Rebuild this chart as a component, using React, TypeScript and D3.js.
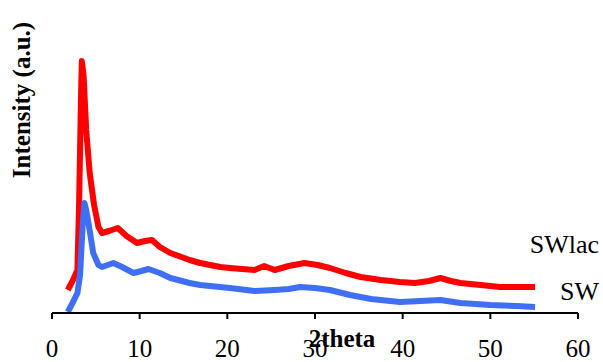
import React from 'react';
import * as d3 from 'd3';

// 2theta positions and intensities (arbitrary units)
const swlacTheta = [1.8, 2.4, 2.9, 3.1, 3.3, 3.4, 3.6, 3.9, 4.3, 4.8, 5.3, 5.7, 6.5, 7.5, 8.5, 9.7, 10.6, 11.4, 12.3, 13.5, 15.7, 16.9, 19.2, 20.3, 23.1, 24.2, 25.4, 27, 28.8, 30.3, 31.7, 33.5, 35.2, 37.5, 39.7, 41.4, 43, 44.3, 45.5, 46.6, 48.9, 51.1, 53, 55.1];
const swlacInt = [23, 33, 43, 113, 213, 252, 238, 183, 140, 108, 86, 80, 82, 85, 77, 70, 72, 73, 66, 60, 53, 50, 46, 45, 43, 47, 43, 47, 50, 48, 45, 40, 36, 33, 31, 30, 32, 35, 32, 30, 28, 26, 26, 26];

const swTheta = [1.8, 2.4, 2.9, 3.2, 3.5, 3.7, 3.9, 4.2, 4.7, 5.3, 5.7, 7, 8, 9.3, 10.2, 11, 12.3, 13.5, 15.7, 16.9, 20.3, 23.1, 25.4, 27, 28.3, 30, 31.7, 34, 36.4, 39.7, 42, 44.3, 46.6, 50, 53, 55.1];
const swInt = [1, 11, 20, 38, 88, 110, 103, 88, 60, 48, 46, 50, 46, 40, 42, 44, 40, 35, 30, 28, 25, 22, 23, 24, 26, 25, 23, 18, 14, 11, 12, 13, 10, 8, 7, 6];

const xTicks = [0, 10, 20, 30, 40, 50, 60];

const series = [
  { name: 'SWlac', theta: swlacTheta, values: swlacInt, color: '#ff0000' },
  { name: 'SW', theta: swTheta, values: swInt, color: '#3f6ff4' },
];

export default function App() {
  const width = 603, height = 362;
  const x = d3.scaleLinear().domain([0, 60]).range([52, 578]);
  const y = d3.scaleLinear().domain([0, 260]).range([313, 53]);
  const font = 'Liberation Serif, Times New Roman, Times, serif';

  const line = d3.line<[number, number]>()
    .x(d => x(d[0]))
    .y(d => y(d[1]))
    .curve(d3.curveLinear);

  return (
    <div style={{ position: 'absolute', left: 0, top: 0 }}>
      <svg width={width} height={height} style={{ display: 'block', background: '#fff', fontFamily: font }}>
        {series.map(s => (
          <path
            key={s.name}
            d={line(s.theta.map((t, i) => [t, s.values[i]] as [number, number])) || ''}
            fill="none"
            stroke={s.color}
            strokeWidth={6}
            strokeLinejoin="round"
            strokeLinecap="butt"
          />
        ))}

        {/* x axis */}
        <line x1={x(0)} x2={x(60)} y1={y(0)} y2={y(0)} stroke="#000" strokeWidth={2} />
        {xTicks.map(t => (
          <g key={t}>
            <line x1={x(t)} x2={x(t)} y1={y(0)} y2={y(0) + 6} stroke="#000" strokeWidth={2} />
            <text x={x(t)} y={357} textAnchor="middle" style={{ fontFamily: font }} fontSize={25} fill="#000">{t}</text>
          </g>
        ))}

        <text x={342} y={347} textAnchor="middle" style={{ fontFamily: font }} fontSize={25} fontWeight="bold" fill="#000">2theta</text>
        <text transform="translate(30,100) rotate(-90)" textAnchor="middle" style={{ fontFamily: font }} fontSize={25} fontWeight="bold" fill="#000">Intensity (a.u.)</text>

        <text x={599} y={253} textAnchor="end" style={{ fontFamily: font }} fontSize={26} fill="#000">SWlac</text>
        <text x={599} y={300} textAnchor="end" style={{ fontFamily: font }} fontSize={26} fill="#000">SW</text>
      </svg>
    </div>
  );
}
